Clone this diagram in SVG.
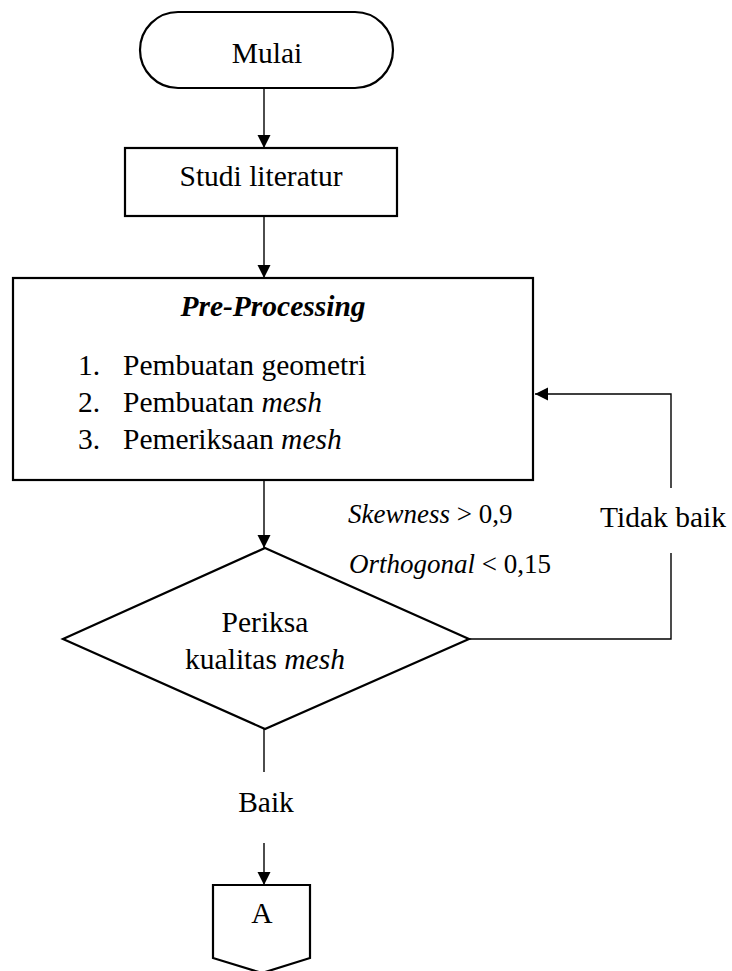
<svg xmlns="http://www.w3.org/2000/svg" width="732" height="971" viewBox="0 0 732 971">
<defs>
<marker id="arr" markerUnits="userSpaceOnUse" markerWidth="14" markerHeight="14" refX="13" refY="6.5" orient="auto">
<path d="M0,0 L13,6.5 L0,13 Z" fill="#000"/>
</marker>
<style>
.shape{fill:#fff;stroke:#000;stroke-width:2.2}
.conn{fill:none;stroke:#000;stroke-width:1.4}
text{font-family:"Liberation Serif","Times New Roman",serif;font-size:29.5px;fill:#000}
.c{text-anchor:middle}
.lbl{font-size:27px}
</style>
</defs>
<rect width="732" height="971" fill="#fff"/>
<g id="connectors">
<line class="conn" x1="264" y1="88" x2="264" y2="148" marker-end="url(#arr)"/>
<line class="conn" x1="264" y1="216" x2="264" y2="278" marker-end="url(#arr)"/>
<line class="conn" x1="264" y1="480" x2="264" y2="548" marker-end="url(#arr)"/>
<polyline class="conn" points="469,639 671,639 671,553"/>
<polyline class="conn" points="671,488 671,394 535,394" marker-end="url(#arr)"/>
<line class="conn" x1="264" y1="729" x2="264" y2="772"/>
<line class="conn" x1="264" y1="843" x2="264" y2="885" marker-end="url(#arr)"/>
</g>
<g id="mulai">
<rect class="shape" x="140" y="12" width="253" height="76" rx="38" ry="38"/>
<text class="c" x="267" y="63">Mulai</text>
</g>
<g id="studi">
<rect class="shape" x="125" y="148" width="272" height="68"/>
<text class="c" x="261" y="186">Studi literatur</text>
</g>
<g id="preprocessing">
<rect class="shape" x="13" y="278" width="520" height="202"/>
<text class="c" x="273" y="316" font-weight="bold" font-style="italic">Pre-Processing</text>
<text x="78" y="375">1.</text><text x="123" y="375">Pembuatan geometri</text>
<text x="78" y="412">2.</text><text x="123" y="412">Pembuatan <tspan font-style="italic">mesh</tspan></text>
<text x="78" y="449">3.</text><text x="123" y="449">Pemeriksaan <tspan font-style="italic">mesh</tspan></text>
</g>
<g id="periksa">
<polygon class="shape" points="265,548 469,639 265,729 63,639"/>
<text class="c" x="265" y="632">Periksa</text>
<text class="c" x="265" y="669">kualitas <tspan font-style="italic">mesh</tspan></text>
</g>
<g id="labels">
<text class="lbl" x="348" y="523"><tspan font-style="italic">Skewness</tspan> &gt; 0,9</text>
<text class="lbl" x="349" y="573"><tspan font-style="italic">Orthogonal</tspan> &lt; 0,15</text>
<text x="600" y="527">Tidak baik</text>
<text class="c" x="266" y="812">Baik</text>
</g>
<g id="connectorA">
<polygon class="shape" points="213,885 310,885 310,958 262,973 213,958"/>
<text class="c" x="262" y="923">A</text>
</g>
</svg>
